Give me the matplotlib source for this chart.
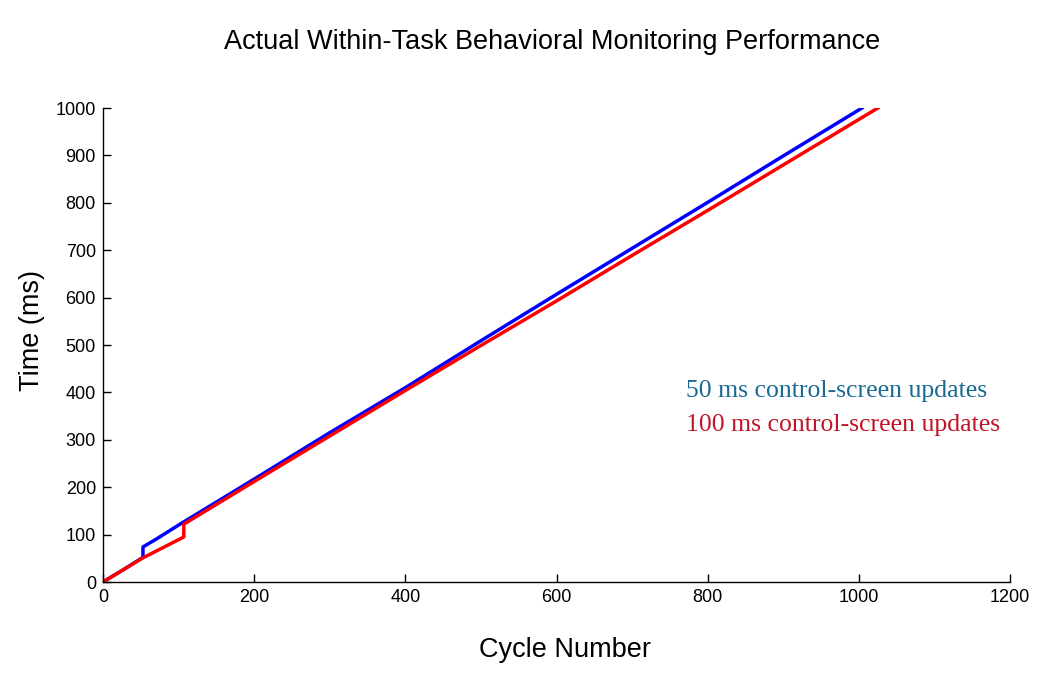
import matplotlib
matplotlib.use('Agg')
from matplotlib import pyplot as plt

# 50 ms control-screen updates (blue)
cycles_50 = [0, 25, 53, 53, 70, 85, 104, 200, 300, 400, 500, 600, 700, 800, 900, 1004]
time_50 = [0, 24, 52, 74, 90, 105, 124, 217, 315, 410, 509, 607, 704, 801, 899, 1000]

# 100 ms control-screen updates (red)
cycles_100 = [0, 25, 53, 80, 107, 107, 200, 300, 400, 500, 600, 700, 800, 900, 1025]
time_100 = [0, 24, 51, 73, 95, 122, 212, 308, 404, 499, 593, 689, 784, 880, 1000]

x_ticks = [0, 200, 400, 600, 800, 1000, 1200]
y_ticks = [0, 100, 200, 300, 400, 500, 600, 700, 800, 900, 1000]

plt.rcParams['font.family'] = ['Liberation Sans', 'DejaVu Sans']

fig = plt.figure(figsize=(10.5, 6.82), dpi=100)
ax = fig.add_axes([0.098, 0.1466, 0.864, 0.695])

ax.plot(cycles_50, time_50, color='#0000ff', linewidth=2.5)
ax.plot(cycles_100, time_100, color='#ff0000', linewidth=2.5)

ax.set_xlim(0, 1200)
ax.set_ylim(0, 1000)
ax.set_xticks(x_ticks)
ax.set_yticks(y_ticks)
ax.tick_params(direction='in', length=6, width=1, labelsize=13, pad=5)

for side in ['top', 'right']:
    ax.spines[side].set_visible(False)
for side in ['left', 'bottom']:
    ax.spines[side].set_linewidth(1)

ax.set_xlabel('Cycle Number', fontsize=19.5, va='center')
ax.set_ylabel('Time (ms)', fontsize=19.5, va='center')
ax.xaxis.set_label_coords(0.509, -0.143)
ax.yaxis.set_label_coords(-0.078, 0.53)
fig.text(0.526, 0.938, 'Actual Within-Task Behavioral Monitoring Performance',
         ha='center', va='center', fontsize=19.5)

ax.text(771, 403, '50 ms control-screen updates', color='#1a6a94',
        fontsize=18.5, family='Liberation Serif', va='center')
ax.text(771, 331, '100 ms control-screen updates', color='#c01428',
        fontsize=18.5, family='Liberation Serif', va='center')

plt.savefig('out.png', dpi=100)
plt.close(fig)
